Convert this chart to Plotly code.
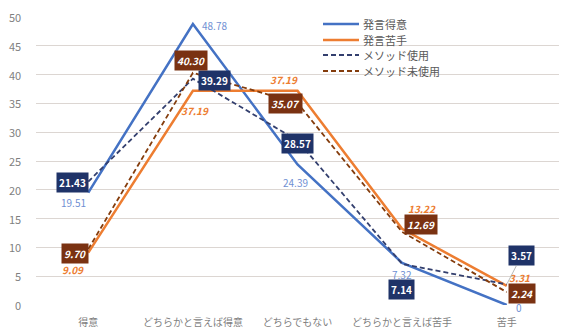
import plotly.graph_objects as go

categories = ["得意", "どちらかと言えば得意", "どちらでもない", "どちらかと言えば苦手", "苦手"]
speak_good = [19.51, 48.78, 24.39, 7.32, 0]
speak_bad = [9.09, 37.19, 37.19, 13.22, 3.31]
method_used = [21.43, 39.29, 28.57, 7.14, 3.57]
method_unused = [9.70, 40.30, 35.07, 12.69, 2.24]
y_ticks = [0, 5, 10, 15, 20, 25, 30, 35, 40, 45, 50]
series_names = ["発言得意", "発言苦手", "メソッド使用", "メソッド未使用"]

FONT = "Noto Sans CJK JP"
C_BLUE = "#4472C4"
C_ORANGE = "#ED7D31"
C_NAVY = "#333F6E"
C_BROWN = "#843C0C"
C_NAVY_BOX = "#1F3368"
C_BROWN_BOX = "#7A3212"
colors = [C_BLUE, C_ORANGE, C_NAVY, C_BROWN]
dashes = ["solid", "solid", "5px,3px", "5px,3px"]
widths = [2.5, 2.5, 1.8, 1.8]
data = [speak_good, speak_bad, method_used, method_unused]

fig = go.Figure()
for name, vals, col, dsh, w in zip(series_names, data, colors, dashes, widths):
    fig.add_trace(go.Scatter(x=categories, y=vals, mode="lines", name=name,
                             line=dict(color=col, width=w, dash=dsh), showlegend=False))

# label offsets (xshift, yshift) in pixels
good_off = [(-15, -10), (22, -1), (-2, -18), (0, -12), (12, -2)]
bad_off = [(-15, -17), (2, -20), (-14, 11), (20, 20), (13, 8)]
used_off = [(-16, -1), (22, -2), (0, -3), (-1, -26), (15, 29)]
unused_off = [(-13, -4), (-2, 12), (-12, 0), (19, 7), (15, -1)]

anns = []
for i, c in enumerate(categories):
    dx, dy = good_off[i]
    txt = "0" if speak_good[i] == 0 else f"{speak_good[i]:.2f}"
    anns.append(dict(x=c, y=speak_good[i], text=txt, showarrow=False, xshift=dx, yshift=dy,
                     font=dict(family=FONT, size=10, color="#6F8FD3")))
for i, c in enumerate(categories):
    dx, dy = bad_off[i]
    anns.append(dict(x=c, y=speak_bad[i], text=f"<b><i>{speak_bad[i]:.2f}</i></b>",
                     showarrow=False, xshift=dx, yshift=dy,
                     font=dict(family=FONT, size=10, color=C_ORANGE)))
for i, c in enumerate(categories):
    dx, dy = used_off[i]
    a = dict(x=c, y=method_used[i], text=f"<b>{method_used[i]:.2f}</b>",
             bgcolor=C_NAVY_BOX, borderpad=2, font=dict(family=FONT, size=10, color="white"))
    if i == 4:
        a.update(showarrow=True, ax=dx, ay=-dy, arrowhead=0, arrowwidth=0.8,
                 arrowcolor="#A6A6A6", standoff=1)
    else:
        a.update(showarrow=False, xshift=dx, yshift=dy)
    anns.append(a)
for i, c in enumerate(categories):
    dx, dy = unused_off[i]
    anns.append(dict(x=c, y=method_unused[i], text=f"<b><i>{method_unused[i]:.2f}</i></b>",
                     showarrow=False, xshift=dx, yshift=dy, bgcolor=C_BROWN_BOX,
                     borderpad=2, font=dict(family=FONT, size=10, color="white")))

# y tick labels placed closer to the plot area
for t in y_ticks:
    anns.append(dict(xref="paper", yref="y", x=0, y=t, text=str(t), showarrow=False,
                     xanchor="right", yanchor="middle", xshift=-13,
                     font=dict(family=FONT, size=11, color="#7F7F7F")))

# manual legend (paper coordinates)
W, H, L, R, T, B = 568, 329, 36, 9, 17, 24
pw, ph = W - L - R, H - T - B
def px(x): return (x - L) / pw
def py(y): return 1 - (y - T) / ph
shapes = []
leg_y = [24, 40, 55, 71]
for name, col, dsh, w, yy in zip(series_names, colors, dashes, widths, leg_y):
    shapes.append(dict(type="line", xref="paper", yref="paper", x0=px(323), x1=px(359),
                       y0=py(yy), y1=py(yy), line=dict(color=col, width=w, dash=dsh)))
    anns.append(dict(xref="paper", yref="paper", x=px(361), y=py(yy), text=name,
                     showarrow=False, xanchor="left", yanchor="middle",
                     font=dict(family=FONT, size=11, color="#595959")))

fig.update_layout(
    width=W, height=H,
    margin=dict(l=L, r=R, t=T, b=B),
    paper_bgcolor="white", plot_bgcolor="white",
    font=dict(family=FONT, size=10, color="#7F7F7F"),
    showlegend=False,
    annotations=anns, shapes=shapes,
)
fig.update_xaxes(type="category", range=[-0.5, 4.5], showgrid=False, showline=False,
                 ticks="", ticklabelstandoff=10, automargin=False,
                 tickfont=dict(family=FONT, size=10, color="#7F7F7F"))
fig.update_yaxes(range=[0, 50], tickvals=y_ticks, showgrid=True, gridcolor="#DCD6D2",
                 gridwidth=1, zeroline=False, showline=False, ticks="", automargin=False,
                 showticklabels=False)

fig.write_html("out.html")
